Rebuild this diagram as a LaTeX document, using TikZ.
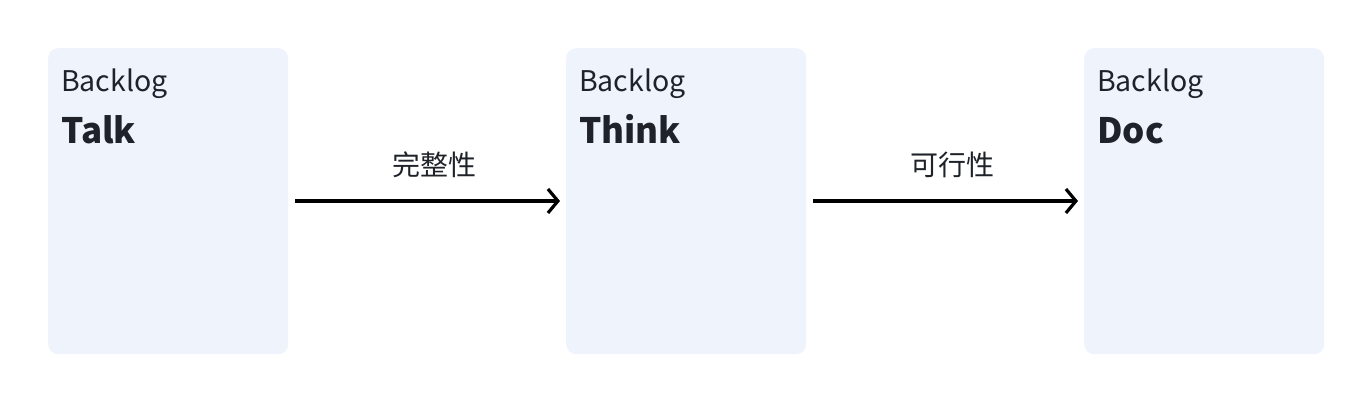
\documentclass[tikz,border=0pt]{standalone}
\usepackage{fontspec}
\setmainfont{Noto Sans CJK SC}
\usetikzlibrary{arrows.meta}
\definecolor{boxfill}{HTML}{EFF3FC}
\definecolor{ink}{HTML}{1F2329}
\tikzset{
  backlog/.style={fill=boxfill, rounded corners=10pt, minimum width=240pt,
                  minimum height=306pt, inner sep=0pt, anchor=north west},
  small/.style={anchor=base west, inner sep=0pt, text=ink, font=\fontsize{28.5}{33}\selectfont},
  title/.style={anchor=base west, inner sep=0pt, text=ink, font=\fontsize{35}{42}\selectfont\bfseries},
  flow/.style={line width=3.2pt, -{Straight Barb[length=10pt, width=24pt, line width=3.2pt]}},
  gate/.style={anchor=base, inner sep=0pt, text=ink, font=\fontsize{28}{33}\selectfont}
}
\begin{document}
\begin{tikzpicture}[x=1pt, y=1pt]
\useasboundingbox (0,0) rectangle (1372,404);
% the three backlog boxes
\node[backlog] (talk)  at (48,356) {};
\node[backlog] (think) at (566,356) {};
\node[backlog] (doc)   at (1084,356) {};
% box texts
\foreach \b/\t in {talk/Talk, think/Think, doc/Doc} {
  \node[small] at ([shift={(13,-44)}]\b.north west) {Backlog};
  \node[title] at ([shift={(13,-96)}]\b.north west) {\t};
}
% connectors
\coordinate (a1) at ([xshift=7pt]talk.east |- 0,203);
\coordinate (a2) at ([xshift=-6pt]think.west |- 0,203);
\coordinate (b1) at ([xshift=7pt]think.east |- 0,203);
\coordinate (b2) at ([xshift=-6pt]doc.west |- 0,203);
\draw[flow] (a1) -- (a2) node[gate, midway, xshift=7pt, yshift=25pt] {完整性};
\draw[flow] (b1) -- (b2) node[gate, midway, xshift=7pt, yshift=25pt] {可行性};
\end{tikzpicture}
\end{document}
